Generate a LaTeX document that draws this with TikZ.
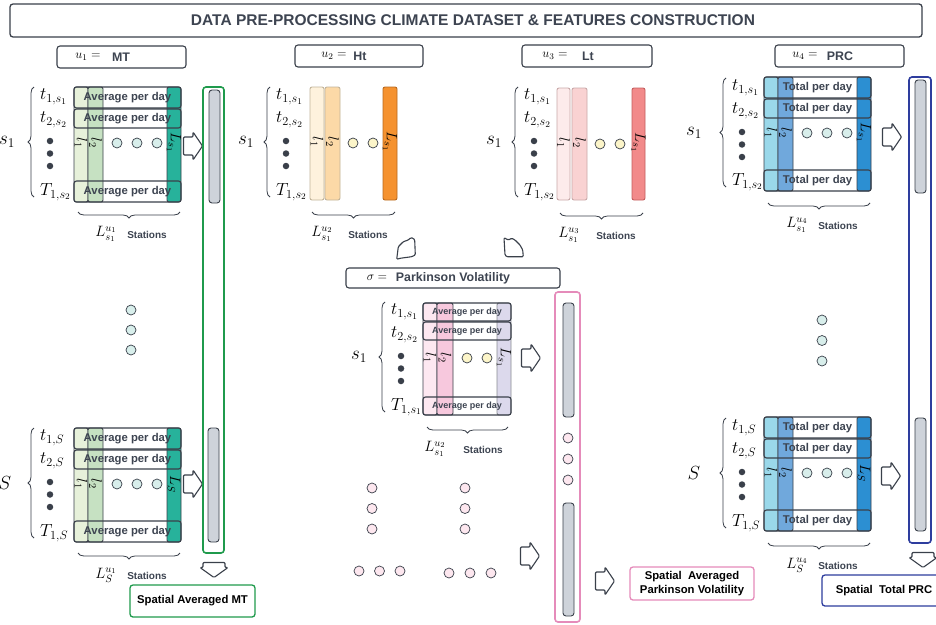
\RequirePackage{fix-cm}
\documentclass[tikz,border=0pt]{standalone}
\usepackage{fontspec}
\setsansfont{Liberation Sans}
\usetikzlibrary{decorations.pathreplacing}

\definecolor{ink}{HTML}{3A404A}
\definecolor{txtc}{HTML}{3D4451}
\definecolor{mtA}{HTML}{E7F1DA}
\definecolor{mtB}{HTML}{C6E1C2}
\definecolor{mtC}{HTML}{27B29B}
\definecolor{htA}{HTML}{FEF2DD}
\definecolor{htB}{HTML}{FCD9A7}
\definecolor{htC}{HTML}{F5922F}
\definecolor{htL}{HTML}{C2B49A}
\definecolor{htD}{HTML}{B8691F}
\definecolor{ltA}{HTML}{FDEBEB}
\definecolor{ltB}{HTML}{F9D2D2}
\definecolor{ltC}{HTML}{F28A8A}
\definecolor{ltL}{HTML}{C9A9A9}
\definecolor{ltD}{HTML}{C45E5E}
\definecolor{prA}{HTML}{9AD8EA}
\definecolor{prB}{HTML}{70A8DC}
\definecolor{prC}{HTML}{2C8FD2}
\definecolor{pkA}{HTML}{FDE8F1}
\definecolor{pkB}{HTML}{F7C8DD}
\definecolor{pkC}{HTML}{DCD9EC}
\definecolor{cyanc}{HTML}{D8EEEB}
\definecolor{yelc}{HTML}{FCF5C9}
\definecolor{pinkc}{HTML}{FDE7EF}
\definecolor{barc}{HTML}{CED3DA}
\definecolor{greenb}{HTML}{1F9A4C}
\definecolor{pinkb}{HTML}{E58BBA}
\definecolor{blueb}{HTML}{2E3D9E}

\tikzset{
  rarr/.pic={\path[arrline, rounded corners=1pt] (-9.5,-9) -- (0,-9) -- (0,-14) -- (9.5,0) -- (0,14) -- (0,9) -- (-9.5,9) -- cycle;},
  darr/.pic={\path[arrline, rounded corners=1pt] (-11,-7.5) -- (11,-7.5) -- (11,-2.5) -- (14,-2.5) -- (0,7.5) -- (-14,-2.5) -- (-11,-2.5) -- cycle;}
}

\newcommand{\fullpanel}[9]{%
  \path[colbox, fill=#5] (#2,#3) rectangle ({#2+14},#4);
  \path[colbox, fill=#6] ({#2+14},#3) rectangle ({#2+29},#4);
  \path[colbox, fill=#7] ({#2+93},#3) rectangle ({#2+107},#4);
  \draw[rowbox] (#2,#3) rectangle ({#2+107},{#3+21});
  \draw[rowbox] (#2,{#3+22}) rectangle ({#2+107},{#3+41});
  \draw[rowbox] (#2,{#4-21}) rectangle ({#2+107},#4);
  \node[rowtxt] (#1ra) at ({#2+53.5},{#3+10.5}) {#8};
  \node[rowtxt] (#1rb) at ({#2+53.5},{#3+31.5}) {#8};
  \node[rowtxt] (#1rc) at ({#2+53.5},{#4-10.5}) {#8};
  \node[collbl] (#1la) at ({#2+7},{#3+56}) {$l_1$};
  \node[collbl] (#1lb) at ({#2+21.5},{#3+56}) {$l_2$};
  \node[collbl] (#1lc) at ({#2+100},{#3+56}) {$#9$};
  \foreach \k in {1,2,3} {\node[circ, fill=cyanc] (#1c\k) at ({#2+23+20*\k},{#3+56}) {};}
}

\newcommand{\rowlabels}[9]{%
  \draw[brc] ({#2-6},#4) -- ({#2-6},#3);
  \node[mth] (#1ta) at (#2,{#3+10}) {$#5$};
  \node[mth] (#1tb) at (#2,{#3+33}) {$#6$};
  \foreach \k in {0,1,2} {\node[bul] (#1d\k) at ({#2+10},{#3+54+12.5*\k}) {};}
  \node[mth] (#1tT) at (#2,{#4-5}) {$#7$};
  \node[sidel] (#1side) at (#9,{(#3+#4)/2}) {$#8$};
}

\newcommand{\colbrace}[7]{%
  \draw[brc] (#3,#4) -- (#2,#4);
  \node[brlbl] (#1L) at (#5,{#4+22}) {$#7$};
  \node[stat] (#1st) at (#6,{#4+23}) {Stations};
}

\begin{document}
\begin{tikzpicture}[x=1pt,y=-1pt,
  lbl/.style={font=\sffamily\bfseries\fontsize{12.4}{14}\selectfont, text=txtc, inner sep=0},
  ulbl/.style={font=\fontsize{12.5}{14}\selectfont, inner sep=0},
  rowtxt/.style={font=\sffamily\bfseries\fontsize{11.3}{13}\selectfont, text=txtc, inner sep=0},
  smallrow/.style={font=\sffamily\bfseries\fontsize{9}{11}\selectfont, text=txtc, inner sep=0},
  mth/.style={font=\fontsize{17.5}{20}\selectfont, inner sep=0, anchor=west},
  sidel/.style={font=\fontsize{19}{21}\selectfont, inner sep=0},
  collbl/.style={font=\fontsize{15}{17}\selectfont, rotate=-90, inner sep=0},
  brlbl/.style={font=\fontsize{15}{17}\selectfont, inner sep=0},
  stat/.style={font=\sffamily\bfseries\fontsize{10}{12}\selectfont, text=txtc, inner sep=0},
  outtxt/.style={font=\sffamily\bfseries\fontsize{11.3}{14}\selectfont, text=black, align=center, inner sep=0},
  circ/.style={circle, draw=ink, line width=0.7pt, minimum size=10pt, inner sep=0},
  bul/.style={circle, fill=ink, minimum size=6.5pt, inner sep=0},
  rowbox/.style={draw=ink, line width=1.1pt, rounded corners=2.5pt},
  colbox/.style={draw=ink, line width=0.9pt, rounded corners=2pt},
  barbox/.style={draw=ink, fill=barc, line width=0.9pt, rounded corners=3pt},
  framebox/.style={line width=1.6pt, rounded corners=3pt},
  labbox/.style={draw=ink, line width=1.1pt, rounded corners=3pt},
  brc/.style={decorate, decoration={brace, amplitude=6pt}, draw=ink, line width=0.8pt},
  arrline/.style={draw=ink, line width=1.1pt, fill=white, line join=round},
  outbox/.style={outtxt, line width=1.3pt, rounded corners=3pt},
]
\useasboundingbox (0,0) rectangle (936,624);
\fill[white] (0,0) rectangle (936,624);

% title
\draw[labbox, line width=1.3pt] (10,4) rectangle (922,37);
\node[font=\sffamily\bfseries\fontsize{15.5}{18}\selectfont, text=txtc, inner sep=0] (title) at (473,20) {DATA PRE-PROCESSING CLIMATE DATASET \& FEATURES CONSTRUCTION};

% ===== MT =====
\draw[labbox] (57,46) rectangle (186,68);
\node[ulbl] (u1) at (88,57) {$u_1 =$};
\node[lbl] (u1n) at (121,57) {MT};
\fullpanel{mta}{74}{87}{202}{mtA}{mtB}{mtC}{Average per day}{L_{s_1}}
\rowlabels{mta}{40}{87}{197}{t_{1,s_1}}{t_{2,s_2}}{T_{1,s_2}}{s_1}{7}
\colbrace{mta}{78}{180}{212}{106}{147}{L^{u_1}_{s_1}}
\pic at (193,146) {rarr};
\foreach \k in {0,1,2} {\node[circ, fill=cyanc] (mtm\k) at (131,{310+20*\k}) {};}
\fullpanel{mtb}{74}{428}{542}{mtA}{mtB}{mtC}{Average per day}{L_S}
\rowlabels{mtb}{40}{428}{538}{t_{1,S}}{t_{2,S}}{T_{1,S}}{S}{5}
\colbrace{mtb}{78}{180}{553}{106}{147}{L^{u_1}_S}
\pic at (193,484) {rarr};
\draw[framebox, draw=greenb] (203,87) rectangle (224,553);
\draw[barbox] (209,90) rectangle (220,203);
\draw[barbox] (208,428) rectangle (219,542);
\pic at (214,570) {darr};
\node[outbox, draw=greenb, minimum width=125pt, minimum height=32pt] (mtout) at (192.5,601) {Spatial Averaged MT};

% ===== Ht =====
\draw[labbox] (295,45) rectangle (423,67);
\node[ulbl] (u2) at (334,56) {$u_2 =$};
\node[lbl] (u2n) at (360,56) {Ht};
\path[colbox, draw=htL, fill=htA] (310,87) rectangle (324,200);
\path[colbox, draw=htL, fill=htB] (325,87) rectangle (340,200);
\path[colbox, draw=htD, fill=htC] (383,87) rectangle (397,200);
\node[collbl] (htl1) at (317,142) {$l_1$};
\node[collbl] (htl2) at (332.5,142) {$l_2$};
\node[collbl] (htl3) at (390,142) {$L_{s_1}$};
\node[circ, fill=yelc] (htc1) at (353,143) {};
\node[circ, fill=yelc] (htc2) at (373,143) {};
\rowlabels{ht}{276}{87}{197}{t_{1,s_1}}{t_{2,s_2}}{T_{1,s_2}}{s_1}{246}
\colbrace{ht}{312}{395}{212}{322}{368}{L^{u_2}_{s_1}}

% ===== Lt =====
\draw[labbox] (522,45) rectangle (652,67);
\node[ulbl] (u3) at (555,56) {$u_3 =$};
\node[lbl] (u3n) at (588,56) {Lt};
\path[colbox, draw=ltL, fill=ltA] (557,88) rectangle (570,200);
\path[colbox, draw=ltL, fill=ltB] (572,88) rectangle (587,200);
\path[colbox, draw=ltD, fill=ltC] (632,88) rectangle (645,200);
\node[collbl] (ltl1) at (563.5,143) {$l_1$};
\node[collbl] (ltl2) at (579.5,143) {$l_2$};
\node[collbl] (ltl3) at (638.5,143) {$L_{s_1}$};
\node[circ, fill=yelc] (ltc1) at (600,144) {};
\node[circ, fill=yelc] (ltc2) at (620,144) {};
\rowlabels{lt}{524}{87}{197}{t_{1,s_1}}{t_{2,s_2}}{T_{1,s_2}}{s_1}{494}
\colbrace{lt}{560}{643}{213}{569}{616}{L^{u_3}_{s_1}}

% ===== PRC =====
\draw[labbox] (775,45) rectangle (904,67);
\node[ulbl] (u4) at (805,56) {$u_4 =$};
\node[lbl] (u4n) at (840,56) {PRC};
\fullpanel{pra}{764}{77}{191}{prA}{prB}{prC}{Total per day}{L_{s_1}}
\rowlabels{pra}{732}{78}{187}{t_{1,s_1}}{t_{2,s_2}}{T_{1,s_2}}{s_1}{694}
\colbrace{pra}{768}{870}{203}{797}{838}{L^{u_4}_{s_1}}
\pic at (892,137) {rarr};
\foreach \k in {0,1,2} {\node[circ, fill=cyanc] (prm\k) at (822,{320+20.5*\k}) {};}
\fullpanel{prb}{764}{417}{531}{prA}{prB}{prC}{Total per day}{L_S}
\rowlabels{prb}{732}{418}{528}{t_{1,S}}{t_{2,S}}{T_{1,S}}{S}{694}
\colbrace{prb}{768}{870}{543}{797}{838}{L^{u_4}_S}
\pic at (891,476) {rarr};
\draw[framebox, draw=blueb] (909,77) rectangle (931,543);
\draw[barbox] (915,80) rectangle (926,193);
\draw[barbox] (915,418) rectangle (926,531);
\pic at (923,560) {darr};
\node[outbox, draw=blueb, minimum width=124pt, minimum height=31pt] (prout) at (884,590.5) {Spatial\ \ Total PRC};

% ===== Parkinson =====
\draw[labbox] (346,268) rectangle (560,288);
\node[ulbl] (sg) at (377,278) {$\sigma =$};
\node[lbl] (sgn) at (453,278) {Parkinson Volatility};
\path[colbox, fill=pkA] (423,303) rectangle (437,415);
\path[colbox, fill=pkB] (437,303) rectangle (453,415);
\path[colbox, draw=ink!60, fill=pkC] (497,303) rectangle (511,415);
\draw[rowbox] (423,303) rectangle (511,321);
\draw[rowbox] (423,322) rectangle (511,340);
\draw[rowbox] (423,397) rectangle (511,415);
\node[smallrow] (pkra) at (467,312) {Average per day};
\node[smallrow] (pkrb) at (467,331) {Average per day};
\node[smallrow] (pkrc) at (467,406) {Average per day};
\node[collbl] (pkl1) at (430,358) {$l_1$};
\node[collbl] (pkl2) at (445,358) {$l_2$};
\node[collbl] (pkl3) at (504,358) {$L_{s_1}$};
\node[circ, fill=yelc] (pkc1) at (467,358) {};
\node[circ, fill=yelc] (pkc2) at (487,358) {};
\rowlabels{pk}{391}{302}{412}{t_{1,s_1}}{t_{2,s_2}}{T_{1,s_1}}{s_1}{359}
\colbrace{pk}{427}{508}{427}{435}{483}{L^{u_2}_{s_1}}
\pic at (531,358) {rarr};
\draw[framebox, draw=pinkb] (555,292) rectangle (580,622);
\draw[barbox] (563,303) rectangle (574,417);
\draw[barbox] (563,503) rectangle (574,616);
\foreach \k in {0,1,2} {\node[circ, fill=pinkc] (pkm\k) at (568,{438+21*\k}) {};}
\pic at (530,556) {rarr};
\pic at (605,581) {rarr};
\node[outbox, draw=pinkb, minimum width=124pt, minimum height=33pt] (pkout) at (692,583.5) {Spatial\ \ Averaged\\Parkinson Volatility};
% pink dots groups
\foreach \k in {0,1,2} {\node[circ, fill=pinkc] (pga\k) at (372,{488+20.5*\k}) {};}
\foreach \k in {0,1,2} {\node[circ, fill=pinkc] (pgb\k) at (465,{488+20.5*\k}) {};}
\foreach \k in {0,1,2} {\node[circ, fill=pinkc] (pgc\k) at ({359+20.5*\k},571) {};}
\foreach \k in {0,1,2} {\node[circ, fill=pinkc] (pgd\k) at ({449+21*\k},573) {};}

% curvy arrows from Ht and Lt
\path[arrline, rounded corners=1pt] (396.7,259.3) -- (398.3,246.7) -- (403.3,241.7) -- (408.3,240) -- (410.7,237.7) -- (413.3,238.3) -- (414.7,240) -- (415.3,255) -- (411.7,256.7) -- (400,258.3) -- cycle;
\path[arrline, rounded corners=1pt] (504,237.7) -- (508.3,240) -- (511.7,238.3) -- (515,240) -- (520,245) -- (522.7,250) -- (523.3,256.7) -- (506.7,256.7) -- (505,255) -- cycle;
\end{tikzpicture}
\end{document}
